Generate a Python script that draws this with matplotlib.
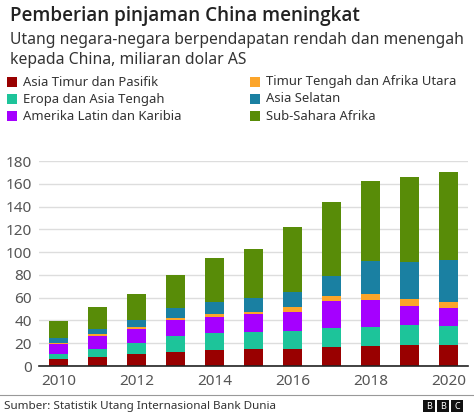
import matplotlib
matplotlib.use("Agg")
import matplotlib.pyplot as plt
from matplotlib.patches import Rectangle
import numpy as np

plt.rcParams['font.family'] = ['Noto Sans', 'DejaVu Sans']

years = list(range(2010, 2021))
series_names = ["Asia Timur dan Pasifik", "Eropa dan Asia Tengah", "Amerika Latin dan Karibia",
                "Timur Tengah dan Afrika Utara", "Asia Selatan", "Sub-Sahara Afrika"]
colors = ["#990000", "#1dc49a", "#a500ff", "#fca52a", "#1a80a2", "#588c08"]

asia_timur = [5.9, 7.9, 10.2, 12.3, 14.3, 14.6, 15.2, 16.4, 17.6, 18.4, 18.7]
eropa = [4.3, 7.3, 10.3, 13.7, 14.4, 15.3, 15.8, 16.7, 16.9, 17.3, 16.7]
amerika = [8.8, 11.1, 11.7, 14.1, 14.6, 15.8, 16.4, 23.7, 23.2, 16.7, 15.5]
timur_tengah = [1.5, 1.5, 1.8, 2.3, 2.1, 1.7, 4.4, 4.4, 5.8, 6.1, 5.6]
asia_selatan = [4.4, 5.0, 6.1, 8.8, 10.5, 12.3, 13.2, 17.8, 28.7, 33.1, 36.9]
sub_sahara = [14.6, 19.0, 22.8, 29.0, 39.2, 42.7, 57.0, 65.0, 70.0, 74.4, 76.6]

series = [asia_timur, eropa, amerika, timur_tengah, asia_selatan, sub_sahara]
yticks = [0, 20, 40, 60, 80, 100, 120, 140, 160, 180]
xticks = [2010, 2012, 2014, 2016, 2018, 2020]

W, H = 474, 415
fig = plt.figure(figsize=(W / 100, H / 100), dpi=100)
fig.patch.set_facecolor("white")

ax = fig.add_axes([39 / W, 1 - 366 / H, (468 - 39) / W, (366 - 161) / H])
bottom = np.zeros(len(years))
for vals, c in zip(series, colors):
    ax.bar(years, vals, bottom=bottom, width=0.51, color=c, zorder=3, linewidth=0)
    bottom += np.array(vals)

ax.set_xlim(2009.5, 2020.5)
ax.set_ylim(0, 180)
ax.set_yticks(yticks)
ax.set_xticks(xticks)
ax.yaxis.grid(True, color="#dddddd", linewidth=1, zorder=0)
ax.set_axisbelow(True)
for s in ["top", "right", "left"]:
    ax.spines[s].set_visible(False)
ax.spines["bottom"].set_color("#222222")
ax.spines["bottom"].set_linewidth(1.2)
ax.spines["bottom"].set_zorder(5)
ax.tick_params(axis="both", length=0, labelsize=11, labelcolor="#555555")
ax.tick_params(axis="y", pad=5)
ax.tick_params(axis="x", pad=6)

# Titles
fig.text(10 / W, 1 - 16 / H, "Pemberian pinjaman China meningkat", fontsize=13.6,
         family=["Open Sans", "DejaVu Sans"], fontweight="semibold", color="#222222",
         va="center", ha="left")
fig.text(10 / W, 1 - 40 / H, "Utang negara-negara berpendapatan rendah dan menengah",
         fontsize=11.3, color="#333333", va="center", ha="left")
fig.text(10 / W, 1 - 60 / H, "kepada China, miliaran dolar AS",
         fontsize=11.3, color="#333333", va="center", ha="left")

# Legend
leg_x = [7, 250]
leg_y = [82, 99, 116]
for i, (name, c) in enumerate(zip(series_names, colors)):
    col, row = divmod(i, 3)
    x0, yc = leg_x[col], leg_y[row]
    fig.patches.append(Rectangle((x0 / W, 1 - (yc + 5) / H), 10 / W, 10 / H,
                                 transform=fig.transFigure, facecolor=c, edgecolor="none"))
    fig.text((x0 + 16) / W, 1 - yc / H, name, fontsize=9.4, color="#333333",
             va="center", ha="left")

# Footer
fig.add_artist(plt.Line2D([0, 1], [1 - 395 / H, 1 - 395 / H], transform=fig.transFigure,
                          color="#999999", linewidth=0.8))
fig.text(4 / W, 1 - 406 / H, "Sumber: Statistik Utang Internasional Bank Dunia",
         fontsize=8.4, color="#333333", va="center", ha="left")
for j, letter in enumerate("BBC"):
    bx = 423 + j * 14
    fig.patches.append(Rectangle((bx / W, 1 - 412 / H), 12 / W, 12 / H,
                                 transform=fig.transFigure, facecolor="#111111", edgecolor="none"))
    fig.text((bx + 6) / W, 1 - 406 / H, letter, fontsize=6.5, color="white",
             fontweight="bold", va="center", ha="center")

fig.savefig("out.png", dpi=100, facecolor="white")
